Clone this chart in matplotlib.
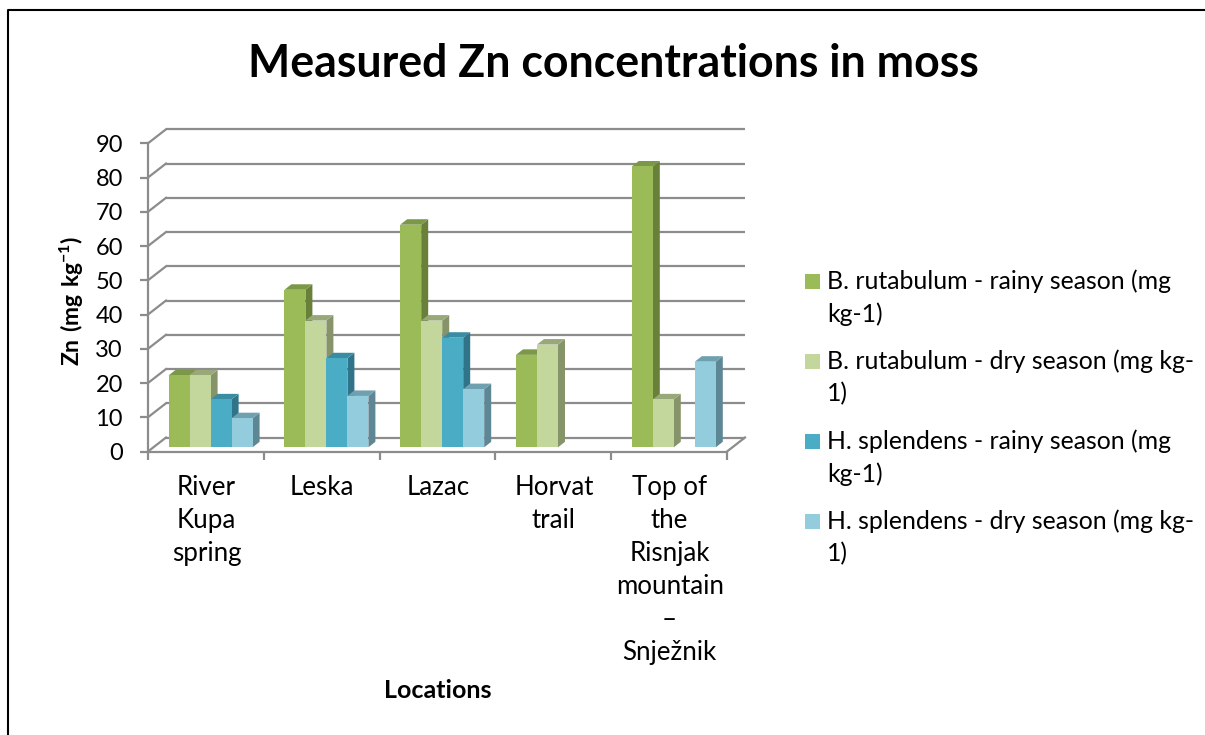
import matplotlib
matplotlib.use("Agg")
import matplotlib.pyplot as plt
from matplotlib.transforms import Affine2D
from matplotlib.patches import Rectangle
from matplotlib.lines import Line2D
import numpy as np

plt.rcParams['font.family'] = ['Lato', 'DejaVu Sans']
plt.rcParams['mathtext.fontset'] = 'custom'
plt.rcParams['mathtext.bf'] = 'Lato:bold'
plt.rcParams['mathtext.rm'] = 'Lato'

title = "Measured Zn concentrations in moss"
categories = ["River\nKupa\nspring", "Leska", "Lazac", "Horvat\ntrail",
              "Top of\nthe\nRisnjak\nmountain\n–\nSnježnik"]
series_names = ["B. rutabulum - rainy season (mg\nkg-1)",
                "B. rutabulum - dry season (mg kg-\n1)",
                "H. splendens - rainy season (mg\nkg-1)",
                "H. splendens - dry season (mg kg-\n1)"]
b_rainy = [21, 46, 65, 27, 82]
b_dry = [21, 37, 37, 30, 14]
h_rainy = [14, 26, 32, 0, 0]
h_dry = [8.5, 15, 17, 0, 25]
series = [b_rainy, b_dry, h_rainy, h_dry]
yticks = list(range(0, 100, 10))

front = ['#9BBB59', '#C3D69B', '#4BACC6', '#93CDDD']
side = ['#68803A', '#87946A', '#2F7489', '#5E8795']
top = ['#7C9747', '#98A878', '#3A8CA2', '#6FA0AF']
grid = '#8C8C8C'
LW = 1.6

W, H = 1205, 735
fig = plt.figure(figsize=(W / 100, H / 100), dpi=100)
ax = fig.add_axes([148 / W, (H - 451.5) / H, 579 / W, 308.2 / H])
ax.set_xlim(0, 5)
ax.set_ylim(0, 90)
ax.patch.set_visible(False)
for s in ['top', 'right']:
    ax.spines[s].set_visible(False)
for s in ['left', 'bottom']:
    ax.spines[s].set_color(grid)
    ax.spines[s].set_linewidth(LW)


def shifted(dx, dy):
    return ax.transData + Affine2D().translate(dx, dy)


# walls: gridlines run along the side wall and the back wall
wall_dx, wall_dy = 18, 14
back = shifted(wall_dx, wall_dy)
for v in yticks:
    ax.plot([0, 5], [v, v], transform=back, color=grid, lw=LW, clip_on=False, zorder=1,
            solid_capstyle='butt')
    p0 = ax.transData.transform((0, v))
    ax.plot([p0[0], p0[0] + wall_dx], [p0[1], p0[1] + wall_dy], transform=None, color=grid,
            lw=LW, clip_on=False, zorder=1)
p1 = ax.transData.transform((5, 0))
ax.plot([p1[0], p1[0] + wall_dx], [p1[1], p1[1] + wall_dy], transform=None, color=grid,
        lw=LW, clip_on=False, zorder=1)

# bars
bar_w = 21 / 115.8
mid_dx, mid_dy = 4.7, 4.2
side_dx, side_dy = 7, 5.5
mid = shifted(mid_dx, mid_dy)
xc = np.arange(len(categories)) + 0.5
for i, vals in enumerate(series):
    left = xc + (i - 2) * bar_w
    for x, v in zip(left, vals):
        if v <= 0:
            continue
        (x0, y0), (x1, y1) = mid.transform([(x, 0), (x + bar_w, v)])
        z = 3 + i * 0.1
        ax.fill([x1, x1 + side_dx, x1 + side_dx, x1],
                [y0, y0 + side_dy, y1 + side_dy, y1], transform=None, color=side[i], lw=0,
                zorder=z, clip_on=False)
        ax.fill([x0, x1, x1 + side_dx, x0 + side_dx],
                [y1, y1, y1 + side_dy, y1 + side_dy], transform=None, color=top[i], lw=0,
                zorder=z, clip_on=False)
        ax.bar(x, v, width=bar_w, align='edge', color=front[i], lw=0,
               transform=mid, zorder=z + 0.01, clip_on=False)

# axes
ax.set_yticks(yticks)
ax.set_yticklabels([str(v) for v in yticks], fontsize=17, color='black')
ax.tick_params(axis='y', length=5.5, width=LW, color=grid, pad=12.5)
ax.set_xticks(range(len(categories) + 1))
ax.set_xticklabels([])
ax.tick_params(axis='x', which='major', length=5.5, width=LW, color=grid)
ax.set_xticks(xc + 0.005, minor=True)
ax.set_xticklabels(categories, minor=True, fontsize=18.6, linespacing=1.40, color='black')
ax.tick_params(axis='x', which='minor', length=0, pad=17)

fig.text(613 / W, 1 - 64 / H, title, fontsize=32.1, fontweight='bold', ha='center', va='center')
fig.text(72 / W, 1 - 301 / H, r"$\mathbf{Zn\ (mg\ kg^{-1})}$", fontsize=16.5, rotation=90,
         ha='center', va='center')
fig.text(438 / W, 1 - 690 / H, "Locations", fontsize=18, fontweight='bold', ha='center',
         va='center')

# legend
leg_y = [281, 361, 441, 521]
for name, c, y in zip(series_names, front, leg_y):
    fig.add_artist(Rectangle((805 / W, 1 - (y + 8) / H), 15 / W, 15 / H, color=c, lw=0,
                             transform=fig.transFigure))
    fig.text(827 / W, 1 - (y - 12) / H, name, fontsize=17.9, va='top', ha='left',
             linespacing=1.48)

# outer frame: left and top edges only reach the picture
frame_x, frame_y = [8 / W, 8 / W, 1.0], [0.0, 1 - 10 / H, 1 - 10 / H]
fig.add_artist(Line2D(frame_x, frame_y, color='black', lw=1.5, transform=fig.transFigure))

fig.savefig("out.png", dpi=100)
